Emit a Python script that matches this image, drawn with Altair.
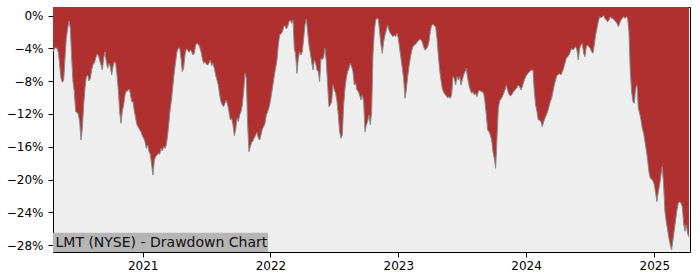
import altair as alt
import pandas as pd

# Drawdown (%), roughly every 4 days, 2020-04-20 .. 2025-04-10
dd_a = [-4.41, -4.08, -3.92, -4.00, -4.49, -6.03, -7.66, -8.14, -7.90, -5.22, -2.78, -1.56, -0.67, -1.56, -5.22,
        -8.06, -9.28, -11.72, -11.80, -12.04, -12.94, -15.17, -13.75, -10.91, -8.88, -7.45, -7.25, -7.98, -7.66, -6.64,
        -5.95, -5.83, -5.22, -4.73, -4.81, -5.42, -6.03, -6.64, -5.22, -4.41, -5.63, -6.44, -5.83, -6.24, -7.25,
        -6.24, -5.63, -5.83, -7.25, -9.08, -11.72, -13.14, -11.64, -10.91, -9.69, -9.20, -9.20, -8.96, -9.48, -10.50]
dd_b = [-10.50, -11.64, -12.53, -13.34, -13.59, -13.95, -14.16, -14.64, -14.97, -15.37, -16.19, -15.78, -16.59, -16.92, -18.22,
        -19.44, -17.61, -17.20, -17.00, -16.80, -16.92, -16.19, -16.51, -15.98, -16.19, -15.78, -14.56, -12.94, -11.31, -10.09,
        -8.47, -6.84, -5.63, -4.41, -4.00, -3.92, -5.22, -6.84, -6.44, -4.81, -4.08, -4.20, -4.49, -4.20, -4.41,
        -4.81, -4.61, -3.59, -3.39, -3.51, -3.80, -4.41, -5.22, -5.83, -5.63, -5.95, -6.03, -5.83, -5.42, -6.11]
dd_c = [-5.83, -6.44, -7.25, -7.86, -8.47, -9.69, -10.50, -10.91, -11.11, -10.70, -10.30, -10.91, -11.72, -12.73, -12.53,
        -13.34, -14.64, -13.95, -12.53, -12.94, -12.12, -11.72, -10.91, -9.28, -7.05, -7.66, -13.34, -16.59, -16.00, -15.45,
        -15.29, -14.89, -14.56, -14.24, -14.97, -15.17, -14.56, -13.83, -13.55, -13.14, -12.12, -11.72, -11.23, -10.50, -9.48,
        -8.39, -7.33, -6.36, -5.42, -3.59, -2.38, -2.21, -2.05, -1.36, -1.24, -1.64, -1.36, -0.75, -0.55, -0.95]
dd_d = [-0.55, -4.00, -4.81, -7.05, -5.22, -4.41, -4.81, -4.41, -2.78, -1.16, -0.43, -1.97, -3.59, -4.61, -5.63,
        -6.64, -5.42, -5.83, -6.64, -6.84, -8.06, -5.22, -5.42, -5.02, -4.00, -5.63, -8.47, -11.11, -10.91, -10.50,
        -8.47, -9.08, -9.48, -10.50, -12.12, -14.16, -14.97, -14.56, -10.91, -8.88, -7.66, -6.84, -6.44, -5.83, -6.24,
        -6.84, -8.47, -8.27, -9.08, -9.28, -9.69, -10.30, -9.69, -10.50, -14.16, -13.34, -12.94, -12.12, -13.34, -11.72]
dd_e = [-4.81, -1.97, -0.55, -0.35, -0.43, -1.97, -3.59, -4.61, -3.19, -2.38, -1.77, -1.16, -1.77, -2.17, -2.38,
        -2.58, -2.38, -2.58, -2.17, -2.78, -4.00, -5.22, -6.44, -7.66, -10.09, -9.08, -7.45, -6.24, -5.22, -4.33,
        -3.80, -3.59, -3.51, -3.27, -3.11, -2.90, -2.94, -3.27, -3.80, -4.20, -4.08, -3.80, -3.19, -1.97, -1.16,
        -1.08, -1.24, -1.36, -2.78, -4.81, -6.64, -7.86, -8.88, -9.36, -9.61, -9.77, -10.01, -9.89, -10.09, -9.69]
dd_f = [-7.45, -7.66, -8.47, -7.45, -7.86, -7.45, -8.47, -7.86, -7.25, -6.84, -6.44, -7.66, -8.47, -9.08, -9.48,
        -9.28, -9.69, -9.48, -9.89, -9.28, -9.08, -9.28, -9.28, -9.48, -10.50, -12.12, -13.95, -14.16, -14.56, -15.17,
        -16.59, -17.40, -18.62, -14.97, -11.31, -10.42, -10.17, -9.89, -9.48, -9.08, -8.47, -9.08, -9.61, -9.77, -9.69,
        -9.36, -9.20, -8.96, -8.79, -8.47, -8.67, -9.08, -8.67, -8.14, -7.66, -7.33, -7.09, -6.92, -6.76, -6.64]
dd_g = [-6.64, -9.28, -10.91, -11.72, -12.73, -12.73, -12.94, -13.55, -12.94, -12.53, -12.12, -11.72, -11.11, -10.50, -10.09,
        -9.28, -8.47, -7.86, -7.25, -7.25, -7.05, -7.25, -6.84, -6.44, -5.83, -5.22, -5.02, -4.81, -4.41, -4.00,
        -4.20, -4.00, -3.80, -4.20, -5.42, -4.00, -3.59, -3.39, -4.61, -5.02, -3.80, -3.59, -3.80, -4.00, -4.41,
        -4.61, -3.59, -2.38, -1.56, -0.75, -0.14, -0.26, -0.14, -0.02, -0.35, -0.55, -0.75, -0.55, -0.14, -0.35]
dd_h = [-0.35, -0.55, -0.75, -0.95, -1.36, -0.95, -0.55, -0.35, -0.14, -0.35, -0.14, -0.35, -1.97, -6.84, -9.28,
        -10.50, -10.70, -8.87, -8.47, -11.31, -11.92, -12.73, -13.75, -14.36, -15.37, -16.39, -17.61, -19.03, -19.84, -19.92,
        -20.17, -20.57, -21.67, -22.69, -21.47, -20.66, -19.44, -18.42, -20.66, -23.90, -25.12, -26.14, -27.15, -27.96, -28.57,
        -27.36, -26.14, -24.92, -23.70, -22.89, -22.69, -22.89, -23.29, -25.30, -26.30, -25.50, -26.60, -27.00]

start_date = "2020-04-20"
end_date = "2025-04-10"
y_top = 1.04
y_bottom = -28.82
y_ticks = [0, -4, -8, -12, -16, -20, -24, -28]
year_ticks = [2021, 2022, 2023, 2024, 2025]
label_text = "LMT (NYSE) - Drawdown Chart"

values = dd_a + dd_b + dd_c + dd_d + dd_e + dd_f + dd_g + dd_h
dates = pd.date_range(start_date, end_date, periods=len(values))
df = pd.DataFrame({"date": dates.strftime("%Y-%m-%dT%H:%M:%SZ"), "dd": values})

FONT = "DejaVu Sans"

x_enc = alt.X(
    "date:T",
    scale=alt.Scale(
        type="utc",
        domain=[alt.DateTime(year=2020, month=4, date=20, utc=True),
                alt.DateTime(year=2025, month=4, date=13, utc=True)],
    ),
    axis=alt.Axis(
        values=[alt.DateTime(year=y, month=1, date=1, utc=True) for y in year_ticks],
        labelExpr="utcFormat(datum.value, '%Y')",
        title=None, grid=False, domain=False,
        tickSize=5, tickColor="black", labelPadding=3,
        labelFont=FONT, labelFontSize=12, labelColor="black",
        labelOverlap=False,
    ),
)
y_enc = alt.Y(
    "dd:Q",
    scale=alt.Scale(domain=[y_bottom, y_top], nice=False, zero=False),
    axis=alt.Axis(
        values=y_ticks,
        labelExpr="replace(toString(datum.value), '-', '\u2212') + '%'",
        title=None, grid=False, domain=False,
        tickSize=5, tickColor="black", labelPadding=5,
        labelFont=FONT, labelFontSize=12, labelColor="black",
        labelOverlap=False, labelBound=False,
    ),
)

base = alt.Chart(df)
area = base.mark_area(color="#b02f2f", opacity=1).encode(x=x_enc, y=y_enc, y2=alt.datum(y_top))
edge = base.mark_line(color="#8a8a8a", strokeWidth=1).encode(x=x_enc, y=y_enc)

lab = pd.DataFrame({"t": [label_text]})
box = alt.Chart(lab).mark_rect(color="#b5b5b5").encode(
    x=alt.value(0), x2=alt.value(215), y=alt.value(225.7), y2=alt.value(245)
)
txt = alt.Chart(lab).mark_text(
    align="left", baseline="alphabetic", font=FONT, fontSize=14, color="#111111"
).encode(x=alt.value(2.5), y=alt.value(239.7), text="t:N")

chart = (
    alt.layer(area, edge, box, txt)
    .properties(
        width=637, height=245,
        padding={"left": 53, "top": 7, "right": 10, "bottom": 28},
        autosize="none",
        background="white",
    )
    .configure_view(fill="#eeeeee", stroke="black", strokeWidth=1)
    .configure_axis(labelOverlap=False)
)

chart.save("out.html", embed_options={"renderer": "svg", "actions": False})
